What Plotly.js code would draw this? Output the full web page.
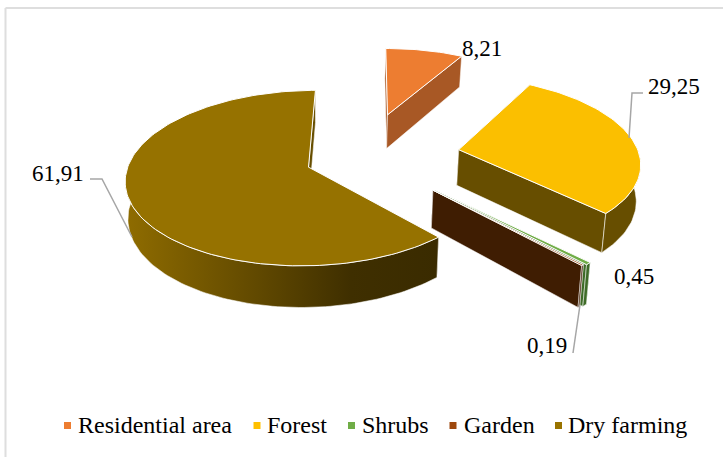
<!DOCTYPE html>
<html>
<head>
<meta charset="utf-8">
<script src="https://cdn.plot.ly/plotly-3.0.1.min.js"></script>
<style>html,body{margin:0;padding:0;background:#fff}#chart{width:723px;height:457px}</style>
</head>
<body>
<div id="chart"></div>
<script>
// Land use shares in percent, drawn clockwise from the first slice angle
const categories = ['Residential area', 'Forest', 'Shrubs', 'Garden', 'Dry farming'];
const shares = [8.21, 29.25, 0.45, 0.19, 61.91];
const topColors = ['#ED7D31', '#FBBF00', '#70AD47', '#9E480E', '#967200'];
const sideColors = ['#A85825', '#674E00', '#3E6B28', '#3F1D02', '#674E00'];
const explosion = [0.537, 0.537, 0.548, 0.537, 0.33];
const nudgeU = [0, 0, 0, 0, 0.002];
const nudgeV = [0, 0, 0, 0, -0.014];

// Pie projection: disc plane to axis units, with perspective receding upward
const firstAngle = 2;
const view = {cx: 320, cy: 168, rx: 182, ry: 86.6, persp: 0.125, depth: 36.5, shrink: 0.014, shear: 0.016, ox: 0.246, oy: 0.136};
const rad = d => d * Math.PI / 180;

function project(u, v, low) {
  const s = 1 / (1 + view.persp * v);
  let x = view.cx + view.rx * u * s;
  let y = view.cy - view.ry * v * s - view.shear * (x - view.cx);
  if (low) {
    x = view.cx + (x - view.cx) * (1 - view.shrink);
    y += view.depth * s;
  }
  return [x, y];
}

function sliceGeometry(i) {
  const before = shares.slice(0, i).reduce((a, b) => a + b, 0);
  const total = shares.reduce((a, b) => a + b, 0);
  const a0 = firstAngle + before / total * 360;
  const a1 = a0 + shares[i] / total * 360;
  const mid = rad((a0 + a1) / 2);
  const au = view.ox + explosion[i] * Math.sin(mid) + nudgeU[i];
  const av = view.oy + explosion[i] * Math.cos(mid) + nudgeV[i];
  return {a0, a1, au, av};
}

const rim = (g, deg, low) => project(g.au + Math.sin(rad(deg)), g.av + Math.cos(rad(deg)), low);

function arc(g, from, to, low) {
  const n = Math.max(2, Math.ceil(Math.abs(to - from) / 1.5));
  const pts = [];
  for (let k = 0; k <= n; k++) pts.push(rim(g, from + (to - from) * k / n, low));
  return pts;
}

function face(name, pts, color, edge, gradient) {
  const t = {
    type: 'scatter', mode: 'lines', name: name, showlegend: false, hoverinfo: 'skip',
    x: pts.map(p => p[0]).concat(pts[0][0]),
    y: pts.map(p => p[1]).concat(pts[0][1]),
    fill: 'toself', fillcolor: color,
    line: {color: edge, width: 1}
  };
  if (gradient) t.fillgradient = gradient;
  return t;
}

function sliceTraces(i, gradient) {
  const g = sliceGeometry(i);
  const name = categories[i];
  const side = sideColors[i];
  const soft = 'rgba(255,255,255,0.55)';
  const out = [];
  const apexHi = project(g.au, g.av, false);
  const apexLo = project(g.au, g.av, true);
  // Radial wall at the start of the slice, then at its end
  out.push(face(name, [apexHi, rim(g, g.a0, false), rim(g, g.a0, true), apexLo], side, soft));
  out.push(face(name, [apexHi, rim(g, g.a1, false), rim(g, g.a1, true), apexLo], side, soft));
  // Outer wall, only the part that faces the viewer
  const from = Math.max(g.a0, 92), to = Math.min(g.a1, 282);
  if (to > from) {
    const wall = arc(g, from, to, false).concat(arc(g, to, from, true));
    out.push(face(name, wall, side, soft, gradient));
  }
  // Top face
  out.push(face(name, [apexHi].concat(arc(g, g.a0, g.a1, false)), topColors[i], '#FFFFFF'));
  return out;
}

const dryGradient = {
  type: 'horizontal',
  colorscale: [[0, '#8F6C00'], [0.42, '#614900'], [0.72, '#3F2F00'], [1, '#3A2B00']]
};

const traces = [].concat(
  sliceTraces(4, dryGradient),
  sliceTraces(0),
  sliceTraces(1),
  sliceTraces(2),
  sliceTraces(3)
);

// Leader lines from the slices to their value labels
const leaderColor = '#A6A6A6';
const leaders = [
  {x: [629, 632, 643], y: [138, 93, 93]},
  {x: [132, 102, 90], y: [237, 179, 179]},
  {x: [580, 573], y: [305, 353]}
];
leaders.forEach(l => traces.push({
  type: 'scatter', mode: 'lines', x: l.x, y: l.y, showlegend: false, hoverinfo: 'skip',
  line: {color: leaderColor, width: 1.5}
}));

// Key along the bottom edge
const keyX = [67.5, 257, 351.5, 453, 558.5];
const keyTextX = [78, 266.5, 362, 464, 567.5];
const keyY = 425.5;
traces.push({
  type: 'scatter', mode: 'markers', x: keyX, y: keyX.map(() => keyY),
  showlegend: false, hoverinfo: 'skip',
  marker: {symbol: 'square', size: 7, color: ['#ED7D31', '#FFC000', '#70AD47', '#9E480E', '#997300']}
});

const serif = '"Liberation Serif", "Times New Roman", serif';
const labelX = [481.5, 674, 633.5, 547, 57.5];
const labelY = [48, 86, 276, 345, 173];
const annotations = shares.map((v, i) => ({
  x: labelX[i], y: labelY[i], xref: 'x', yref: 'y', showarrow: false,
  xanchor: 'center', yanchor: 'middle',
  text: String(v).replace('.', ','),
  font: {family: serif, size: 23, color: '#000'}
})).concat(categories.map((c, i) => ({
  x: keyTextX[i], y: keyY - 1, xref: 'x', yref: 'y', showarrow: false,
  xanchor: 'left', yanchor: 'middle', xshift: -2,
  text: c,
  font: {family: serif, size: 24, color: '#000'}
})));

const frameColor = '#DEDEDE';
const layout = {
  width: 723, height: 457,
  margin: {l: 0, r: 0, t: 0, b: 0},
  paper_bgcolor: '#fff', plot_bgcolor: '#fff',
  showlegend: false,
  hovermode: false,
  xaxis: {range: [0, 723], visible: false, fixedrange: true},
  yaxis: {range: [457, 0], visible: false, fixedrange: true},
  annotations: annotations,
  shapes: [
    {type: 'line', xref: 'x', yref: 'y', x0: 5.5, x1: 723, y0: 8, y1: 8, line: {color: frameColor, width: 2}},
    {type: 'line', xref: 'x', yref: 'y', x0: 5.5, x1: 5.5, y0: 8, y1: 457, line: {color: frameColor, width: 2}}
  ]
};

Plotly.newPlot('chart', traces, layout, {displayModeBar: false, responsive: false});
</script>
</body>
</html>
